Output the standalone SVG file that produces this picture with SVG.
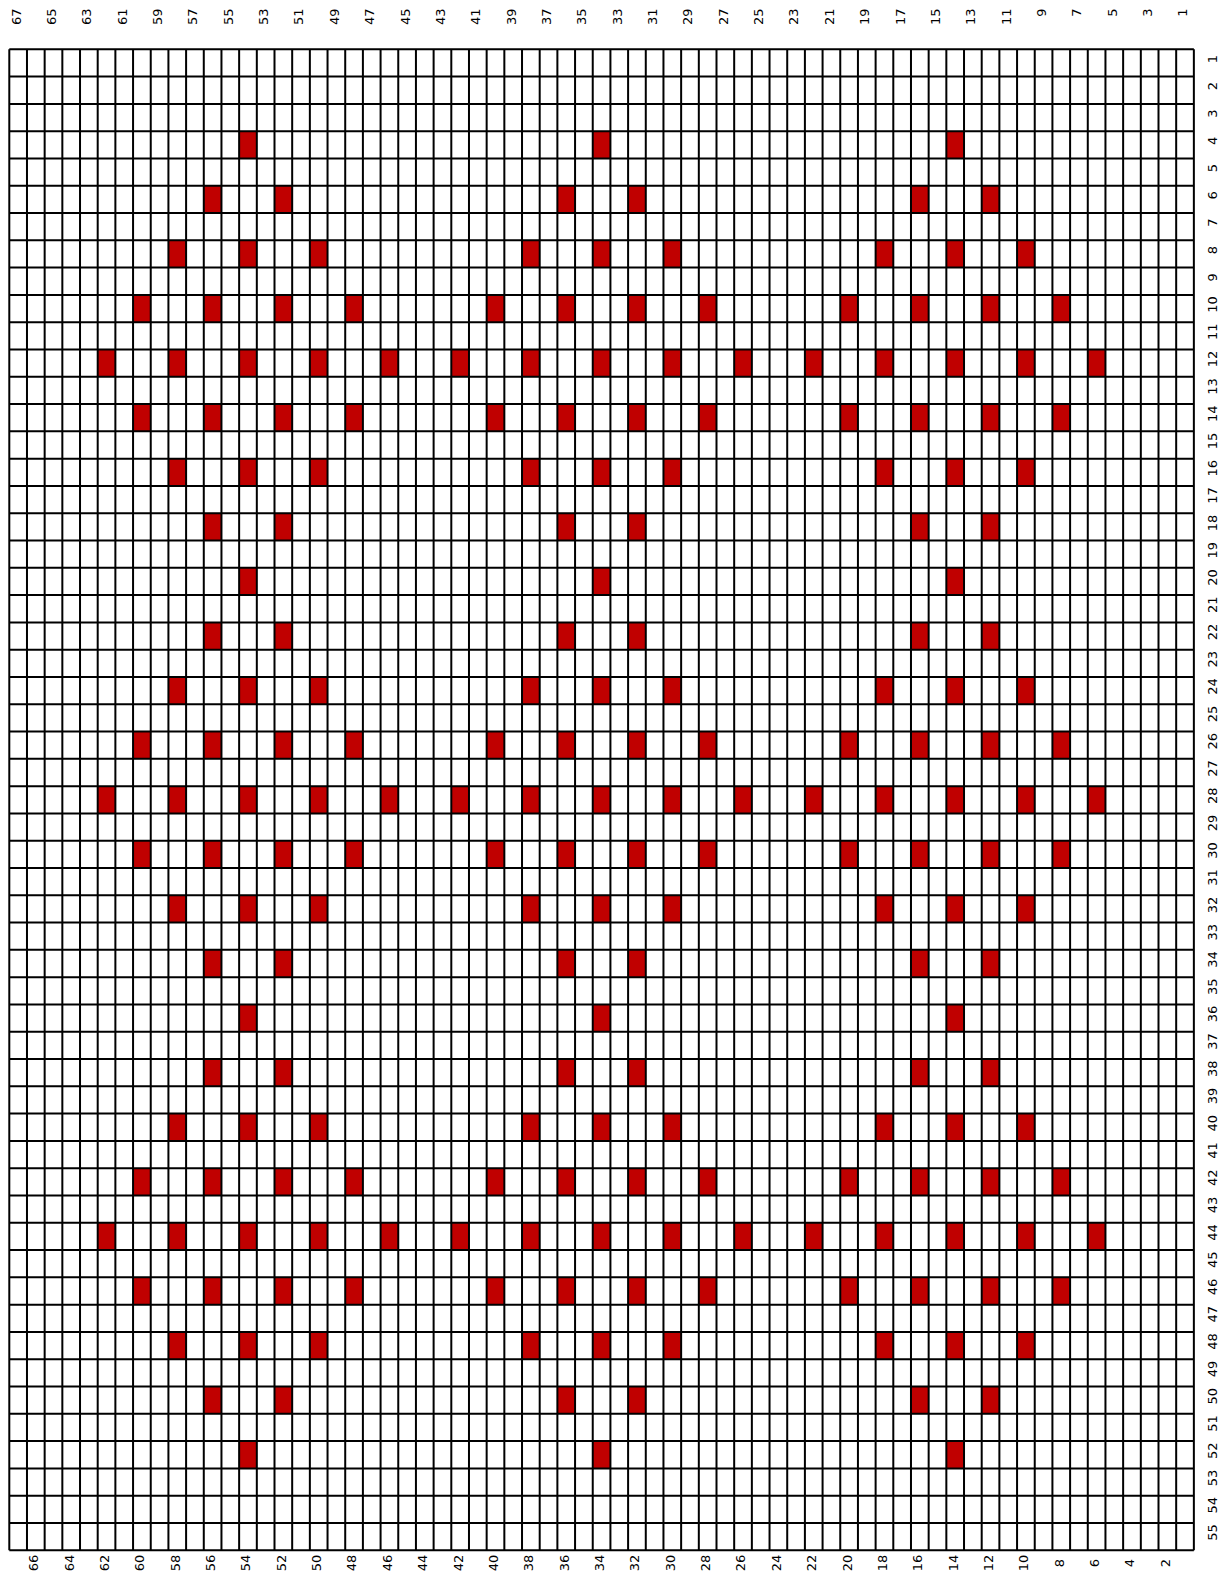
<svg xmlns="http://www.w3.org/2000/svg" xmlns:xlink="http://www.w3.org/1999/xlink" width="1220" height="1575" viewBox="0 0 1220 1575">
<style>
.r{fill:#C00000}
.g{fill:none;stroke:#000;stroke-width:2}
.t{font-family:"DejaVu Sans",sans-serif;font-size:13px;fill:#000}
.te{text-anchor:end}
.tm{text-anchor:middle}
</style>
<defs>
<g id="pA"><rect class="r" x="239.14" y="0" width="17.68" height="27.29"/><rect class="r" x="592.74" y="0" width="17.68" height="27.29"/><rect class="r" x="946.34" y="0" width="17.68" height="27.29"/></g>
<g id="pB"><rect class="r" x="203.78" y="0" width="17.68" height="27.29"/><rect class="r" x="274.5" y="0" width="17.68" height="27.29"/><rect class="r" x="557.38" y="0" width="17.68" height="27.29"/><rect class="r" x="628.1" y="0" width="17.68" height="27.29"/><rect class="r" x="910.98" y="0" width="17.68" height="27.29"/><rect class="r" x="981.7" y="0" width="17.68" height="27.29"/></g>
<g id="pC"><rect class="r" x="168.42" y="0" width="17.68" height="27.29"/><rect class="r" x="239.14" y="0" width="17.68" height="27.29"/><rect class="r" x="309.86" y="0" width="17.68" height="27.29"/><rect class="r" x="522.02" y="0" width="17.68" height="27.29"/><rect class="r" x="592.74" y="0" width="17.68" height="27.29"/><rect class="r" x="663.46" y="0" width="17.68" height="27.29"/><rect class="r" x="875.62" y="0" width="17.68" height="27.29"/><rect class="r" x="946.34" y="0" width="17.68" height="27.29"/><rect class="r" x="1017.06" y="0" width="17.68" height="27.29"/></g>
<g id="pD"><rect class="r" x="133.06" y="0" width="17.68" height="27.29"/><rect class="r" x="203.78" y="0" width="17.68" height="27.29"/><rect class="r" x="274.5" y="0" width="17.68" height="27.29"/><rect class="r" x="345.22" y="0" width="17.68" height="27.29"/><rect class="r" x="486.66" y="0" width="17.68" height="27.29"/><rect class="r" x="557.38" y="0" width="17.68" height="27.29"/><rect class="r" x="628.1" y="0" width="17.68" height="27.29"/><rect class="r" x="698.82" y="0" width="17.68" height="27.29"/><rect class="r" x="840.26" y="0" width="17.68" height="27.29"/><rect class="r" x="910.98" y="0" width="17.68" height="27.29"/><rect class="r" x="981.7" y="0" width="17.68" height="27.29"/><rect class="r" x="1052.42" y="0" width="17.68" height="27.29"/></g>
<g id="pE"><rect class="r" x="97.7" y="0" width="17.68" height="27.29"/><rect class="r" x="168.42" y="0" width="17.68" height="27.29"/><rect class="r" x="239.14" y="0" width="17.68" height="27.29"/><rect class="r" x="309.86" y="0" width="17.68" height="27.29"/><rect class="r" x="380.58" y="0" width="17.68" height="27.29"/><rect class="r" x="451.3" y="0" width="17.68" height="27.29"/><rect class="r" x="522.02" y="0" width="17.68" height="27.29"/><rect class="r" x="592.74" y="0" width="17.68" height="27.29"/><rect class="r" x="663.46" y="0" width="17.68" height="27.29"/><rect class="r" x="734.18" y="0" width="17.68" height="27.29"/><rect class="r" x="804.9" y="0" width="17.68" height="27.29"/><rect class="r" x="875.62" y="0" width="17.68" height="27.29"/><rect class="r" x="946.34" y="0" width="17.68" height="27.29"/><rect class="r" x="1017.06" y="0" width="17.68" height="27.29"/><rect class="r" x="1087.78" y="0" width="17.68" height="27.29"/></g>
</defs>
<rect x="0" y="0" width="1220" height="1575" fill="#fff"/>
<g id="cells">
<use xlink:href="#pA" transform="translate(0,131.17)"/>
<use xlink:href="#pB" transform="translate(0,185.75)"/>
<use xlink:href="#pC" transform="translate(0,240.33)"/>
<use xlink:href="#pD" transform="translate(0,294.91)"/>
<use xlink:href="#pE" transform="translate(0,349.49)"/>
<use xlink:href="#pD" transform="translate(0,404.07)"/>
<use xlink:href="#pC" transform="translate(0,458.65)"/>
<use xlink:href="#pB" transform="translate(0,513.23)"/>
<use xlink:href="#pA" transform="translate(0,567.81)"/>
<use xlink:href="#pB" transform="translate(0,622.39)"/>
<use xlink:href="#pC" transform="translate(0,676.97)"/>
<use xlink:href="#pD" transform="translate(0,731.55)"/>
<use xlink:href="#pE" transform="translate(0,786.13)"/>
<use xlink:href="#pD" transform="translate(0,840.71)"/>
<use xlink:href="#pC" transform="translate(0,895.29)"/>
<use xlink:href="#pB" transform="translate(0,949.87)"/>
<use xlink:href="#pA" transform="translate(0,1004.45)"/>
<use xlink:href="#pB" transform="translate(0,1059.03)"/>
<use xlink:href="#pC" transform="translate(0,1113.61)"/>
<use xlink:href="#pD" transform="translate(0,1168.19)"/>
<use xlink:href="#pE" transform="translate(0,1222.77)"/>
<use xlink:href="#pD" transform="translate(0,1277.35)"/>
<use xlink:href="#pC" transform="translate(0,1331.93)"/>
<use xlink:href="#pB" transform="translate(0,1386.51)"/>
<use xlink:href="#pA" transform="translate(0,1441.09)"/>
</g>
<g id="grid">
<path class="g" d="M9.3 49.3V1550.25M26.98 49.3V1550.25M44.66 49.3V1550.25M62.34 49.3V1550.25M80.02 49.3V1550.25M97.7 49.3V1550.25M115.38 49.3V1550.25M133.06 49.3V1550.25M150.74 49.3V1550.25M168.42 49.3V1550.25M186.1 49.3V1550.25M203.78 49.3V1550.25M221.46 49.3V1550.25M239.14 49.3V1550.25M256.82 49.3V1550.25M274.5 49.3V1550.25M292.18 49.3V1550.25M309.86 49.3V1550.25M327.54 49.3V1550.25M345.22 49.3V1550.25M362.9 49.3V1550.25M380.58 49.3V1550.25M398.26 49.3V1550.25M415.94 49.3V1550.25M433.62 49.3V1550.25M451.3 49.3V1550.25M468.98 49.3V1550.25M486.66 49.3V1550.25M504.34 49.3V1550.25M522.02 49.3V1550.25M539.7 49.3V1550.25M557.38 49.3V1550.25M575.06 49.3V1550.25M592.74 49.3V1550.25M610.42 49.3V1550.25M628.1 49.3V1550.25M645.78 49.3V1550.25M663.46 49.3V1550.25M681.14 49.3V1550.25M698.82 49.3V1550.25M716.5 49.3V1550.25M734.18 49.3V1550.25M751.86 49.3V1550.25M769.54 49.3V1550.25M787.22 49.3V1550.25M804.9 49.3V1550.25M822.58 49.3V1550.25M840.26 49.3V1550.25M857.94 49.3V1550.25M875.62 49.3V1550.25M893.3 49.3V1550.25M910.98 49.3V1550.25M928.66 49.3V1550.25M946.34 49.3V1550.25M964.02 49.3V1550.25M981.7 49.3V1550.25M999.38 49.3V1550.25M1017.06 49.3V1550.25M1034.74 49.3V1550.25M1052.42 49.3V1550.25M1070.1 49.3V1550.25M1087.78 49.3V1550.25M1105.46 49.3V1550.25M1123.14 49.3V1550.25M1140.82 49.3V1550.25M1158.5 49.3V1550.25M1176.18 49.3V1550.25M1193.86 49.3V1550.25"/>
<path class="g" d="M9.3 49.3H1193.86M9.3 76.59H1193.86M9.3 103.88H1193.86M9.3 131.17H1193.86M9.3 158.46H1193.86M9.3 185.75H1193.86M9.3 213.04H1193.86M9.3 240.33H1193.86M9.3 267.62H1193.86M9.3 294.91H1193.86M9.3 322.2H1193.86M9.3 349.49H1193.86M9.3 376.78H1193.86M9.3 404.07H1193.86M9.3 431.36H1193.86M9.3 458.65H1193.86M9.3 485.94H1193.86M9.3 513.23H1193.86M9.3 540.52H1193.86M9.3 567.81H1193.86M9.3 595.1H1193.86M9.3 622.39H1193.86M9.3 649.68H1193.86M9.3 676.97H1193.86M9.3 704.26H1193.86M9.3 731.55H1193.86M9.3 758.84H1193.86M9.3 786.13H1193.86M9.3 813.42H1193.86M9.3 840.71H1193.86M9.3 868H1193.86M9.3 895.29H1193.86M9.3 922.58H1193.86M9.3 949.87H1193.86M9.3 977.16H1193.86M9.3 1004.45H1193.86M9.3 1031.74H1193.86M9.3 1059.03H1193.86M9.3 1086.32H1193.86M9.3 1113.61H1193.86M9.3 1140.9H1193.86M9.3 1168.19H1193.86M9.3 1195.48H1193.86M9.3 1222.77H1193.86M9.3 1250.06H1193.86M9.3 1277.35H1193.86M9.3 1304.64H1193.86M9.3 1331.93H1193.86M9.3 1359.22H1193.86M9.3 1386.51H1193.86M9.3 1413.8H1193.86M9.3 1441.09H1193.86M9.3 1468.38H1193.86M9.3 1495.67H1193.86M9.3 1522.96H1193.86M9.3 1550.25H1193.86"/>
</g>
<g id="top-labels" class="t te">
<text transform="translate(20.5,8.5) rotate(-90)">67</text>
<text transform="translate(55.9,8.5) rotate(-90)">65</text>
<text transform="translate(91.2,8.5) rotate(-90)">63</text>
<text transform="translate(126.6,8.5) rotate(-90)">61</text>
<text transform="translate(161.9,8.5) rotate(-90)">59</text>
<text transform="translate(197.3,8.5) rotate(-90)">57</text>
<text transform="translate(232.7,8.5) rotate(-90)">55</text>
<text transform="translate(268,8.5) rotate(-90)">53</text>
<text transform="translate(303.4,8.5) rotate(-90)">51</text>
<text transform="translate(338.7,8.5) rotate(-90)">49</text>
<text transform="translate(374.1,8.5) rotate(-90)">47</text>
<text transform="translate(409.5,8.5) rotate(-90)">45</text>
<text transform="translate(444.8,8.5) rotate(-90)">43</text>
<text transform="translate(480.2,8.5) rotate(-90)">41</text>
<text transform="translate(515.5,8.5) rotate(-90)">39</text>
<text transform="translate(550.9,8.5) rotate(-90)">37</text>
<text transform="translate(586.3,8.5) rotate(-90)">35</text>
<text transform="translate(621.6,8.5) rotate(-90)">33</text>
<text transform="translate(657,8.5) rotate(-90)">31</text>
<text transform="translate(692.3,8.5) rotate(-90)">29</text>
<text transform="translate(727.7,8.5) rotate(-90)">27</text>
<text transform="translate(763.1,8.5) rotate(-90)">25</text>
<text transform="translate(798.4,8.5) rotate(-90)">23</text>
<text transform="translate(833.8,8.5) rotate(-90)">21</text>
<text transform="translate(869.1,8.5) rotate(-90)">19</text>
<text transform="translate(904.5,8.5) rotate(-90)">17</text>
<text transform="translate(939.9,8.5) rotate(-90)">15</text>
<text transform="translate(975.2,8.5) rotate(-90)">13</text>
<text transform="translate(1010.6,8.5) rotate(-90)">11</text>
<text transform="translate(1045.9,8.5) rotate(-90)">9</text>
<text transform="translate(1081.3,8.5) rotate(-90)">7</text>
<text transform="translate(1116.7,8.5) rotate(-90)">5</text>
<text transform="translate(1152,8.5) rotate(-90)">3</text>
<text transform="translate(1187.4,8.5) rotate(-90)">1</text>
</g>
<g id="bottom-labels" class="t tm">
<text transform="translate(38.2,1563) rotate(-90)">66</text>
<text transform="translate(73.5,1563) rotate(-90)">64</text>
<text transform="translate(108.9,1563) rotate(-90)">62</text>
<text transform="translate(144.3,1563) rotate(-90)">60</text>
<text transform="translate(179.6,1563) rotate(-90)">58</text>
<text transform="translate(215,1563) rotate(-90)">56</text>
<text transform="translate(250.3,1563) rotate(-90)">54</text>
<text transform="translate(285.7,1563) rotate(-90)">52</text>
<text transform="translate(321.1,1563) rotate(-90)">50</text>
<text transform="translate(356.4,1563) rotate(-90)">48</text>
<text transform="translate(391.8,1563) rotate(-90)">46</text>
<text transform="translate(427.1,1563) rotate(-90)">44</text>
<text transform="translate(462.5,1563) rotate(-90)">42</text>
<text transform="translate(497.9,1563) rotate(-90)">40</text>
<text transform="translate(533.2,1563) rotate(-90)">38</text>
<text transform="translate(568.6,1563) rotate(-90)">36</text>
<text transform="translate(603.9,1563) rotate(-90)">34</text>
<text transform="translate(639.3,1563) rotate(-90)">32</text>
<text transform="translate(674.7,1563) rotate(-90)">30</text>
<text transform="translate(710,1563) rotate(-90)">28</text>
<text transform="translate(745.4,1563) rotate(-90)">26</text>
<text transform="translate(780.7,1563) rotate(-90)">24</text>
<text transform="translate(816.1,1563) rotate(-90)">22</text>
<text transform="translate(851.5,1563) rotate(-90)">20</text>
<text transform="translate(886.8,1563) rotate(-90)">18</text>
<text transform="translate(922.2,1563) rotate(-90)">16</text>
<text transform="translate(957.5,1563) rotate(-90)">14</text>
<text transform="translate(992.9,1563) rotate(-90)">12</text>
<text transform="translate(1028.3,1563) rotate(-90)">10</text>
<text transform="translate(1063.6,1563) rotate(-90)">8</text>
<text transform="translate(1099,1563) rotate(-90)">6</text>
<text transform="translate(1134.3,1563) rotate(-90)">4</text>
<text transform="translate(1169.7,1563) rotate(-90)">2</text>
</g>
<g id="row-labels" class="t tm">
<text transform="translate(1216.5,59) rotate(-90)">1</text>
<text transform="translate(1216.5,86.2) rotate(-90)">2</text>
<text transform="translate(1216.5,113.5) rotate(-90)">3</text>
<text transform="translate(1216.5,140.8) rotate(-90)">4</text>
<text transform="translate(1216.5,168.1) rotate(-90)">5</text>
<text transform="translate(1216.5,195.4) rotate(-90)">6</text>
<text transform="translate(1216.5,222.7) rotate(-90)">7</text>
<text transform="translate(1216.5,250) rotate(-90)">8</text>
<text transform="translate(1216.5,277.3) rotate(-90)">9</text>
<text transform="translate(1216.5,304.6) rotate(-90)">10</text>
<text transform="translate(1216.5,331.8) rotate(-90)">11</text>
<text transform="translate(1216.5,359.1) rotate(-90)">12</text>
<text transform="translate(1216.5,386.4) rotate(-90)">13</text>
<text transform="translate(1216.5,413.7) rotate(-90)">14</text>
<text transform="translate(1216.5,441) rotate(-90)">15</text>
<text transform="translate(1216.5,468.3) rotate(-90)">16</text>
<text transform="translate(1216.5,495.6) rotate(-90)">17</text>
<text transform="translate(1216.5,522.9) rotate(-90)">18</text>
<text transform="translate(1216.5,550.2) rotate(-90)">19</text>
<text transform="translate(1216.5,577.5) rotate(-90)">20</text>
<text transform="translate(1216.5,604.7) rotate(-90)">21</text>
<text transform="translate(1216.5,632) rotate(-90)">22</text>
<text transform="translate(1216.5,659.3) rotate(-90)">23</text>
<text transform="translate(1216.5,686.6) rotate(-90)">24</text>
<text transform="translate(1216.5,713.9) rotate(-90)">25</text>
<text transform="translate(1216.5,741.2) rotate(-90)">26</text>
<text transform="translate(1216.5,768.5) rotate(-90)">27</text>
<text transform="translate(1216.5,795.8) rotate(-90)">28</text>
<text transform="translate(1216.5,823.1) rotate(-90)">29</text>
<text transform="translate(1216.5,850.4) rotate(-90)">30</text>
<text transform="translate(1216.5,877.6) rotate(-90)">31</text>
<text transform="translate(1216.5,904.9) rotate(-90)">32</text>
<text transform="translate(1216.5,932.2) rotate(-90)">33</text>
<text transform="translate(1216.5,959.5) rotate(-90)">34</text>
<text transform="translate(1216.5,986.8) rotate(-90)">35</text>
<text transform="translate(1216.5,1014.1) rotate(-90)">36</text>
<text transform="translate(1216.5,1041.4) rotate(-90)">37</text>
<text transform="translate(1216.5,1068.7) rotate(-90)">38</text>
<text transform="translate(1216.5,1096) rotate(-90)">39</text>
<text transform="translate(1216.5,1123.3) rotate(-90)">40</text>
<text transform="translate(1216.5,1150.5) rotate(-90)">41</text>
<text transform="translate(1216.5,1177.8) rotate(-90)">42</text>
<text transform="translate(1216.5,1205.1) rotate(-90)">43</text>
<text transform="translate(1216.5,1232.4) rotate(-90)">44</text>
<text transform="translate(1216.5,1259.7) rotate(-90)">45</text>
<text transform="translate(1216.5,1287) rotate(-90)">46</text>
<text transform="translate(1216.5,1314.3) rotate(-90)">47</text>
<text transform="translate(1216.5,1341.6) rotate(-90)">48</text>
<text transform="translate(1216.5,1368.9) rotate(-90)">49</text>
<text transform="translate(1216.5,1396.2) rotate(-90)">50</text>
<text transform="translate(1216.5,1423.4) rotate(-90)">51</text>
<text transform="translate(1216.5,1450.7) rotate(-90)">52</text>
<text transform="translate(1216.5,1478) rotate(-90)">53</text>
<text transform="translate(1216.5,1505.3) rotate(-90)">54</text>
<text transform="translate(1216.5,1532.6) rotate(-90)">55</text>
</g>
</svg>
